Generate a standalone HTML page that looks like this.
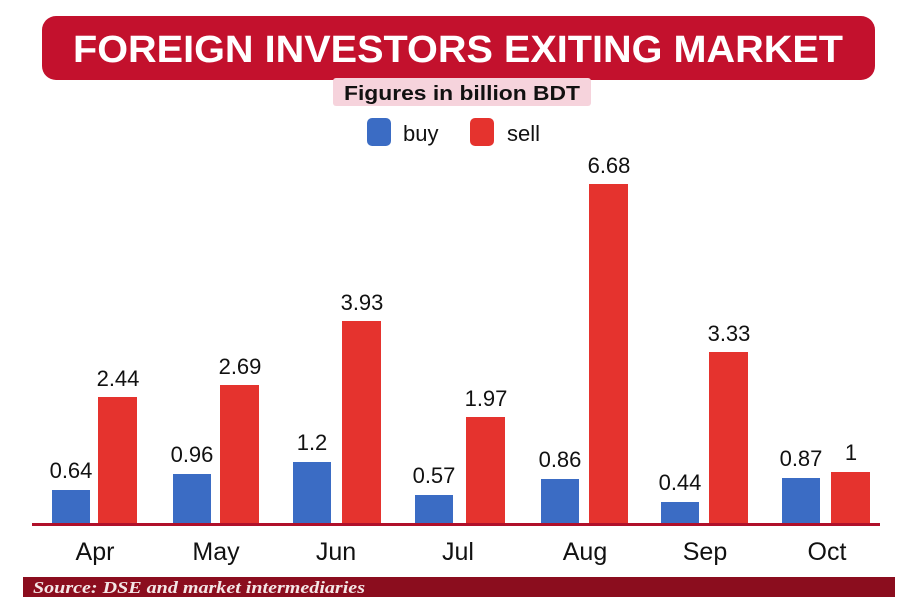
<!DOCTYPE html>
<html><head><meta charset="utf-8"><style>
body{margin:0;width:900px;height:600px;background:#fff;overflow:hidden;font-family:"Liberation Sans",sans-serif;}
</style></head><body>
<svg width="900" height="600" xmlns="http://www.w3.org/2000/svg" font-family="Liberation Sans, sans-serif">
<rect x="42" y="16" width="833" height="64" rx="14" fill="#c3112d"/>
<text x="458" y="62" text-anchor="middle" fill="#fff" font-weight="bold" font-size="38" textLength="770" lengthAdjust="spacingAndGlyphs">FOREIGN INVESTORS EXITING MARKET</text>
<rect x="333" y="78" width="258" height="28" rx="3" fill="#f6d3dc"/>
<text x="462" y="100" text-anchor="middle" fill="#111" font-weight="bold" font-size="20" textLength="236" lengthAdjust="spacingAndGlyphs">Figures in billion BDT</text>
<rect x="367" y="118" width="24" height="28" rx="5" fill="#3b6cc4"/>
<text x="403" y="141" font-size="22" fill="#111">buy</text>
<rect x="470" y="118" width="24" height="28" rx="5" fill="#e5332e"/>
<text x="507" y="141" font-size="22" fill="#111">sell</text>
<g font-size="22" fill="#111" text-anchor="middle">
<rect x="52" y="490" width="38" height="34" fill="#3b6cc4"/><rect x="98" y="397" width="39" height="127" fill="#e5332e"/>
<text x="71" y="478">0.64</text><text x="118" y="386">2.44</text>
<rect x="173" y="474" width="38" height="50" fill="#3b6cc4"/><rect x="220" y="385" width="39" height="139" fill="#e5332e"/>
<text x="192" y="462">0.96</text><text x="240" y="374">2.69</text>
<rect x="293" y="462" width="38" height="62" fill="#3b6cc4"/><rect x="342" y="321" width="39" height="203" fill="#e5332e"/>
<text x="312" y="450">1.2</text><text x="362" y="310">3.93</text>
<rect x="415" y="495" width="38" height="29" fill="#3b6cc4"/><rect x="466" y="417" width="39" height="107" fill="#e5332e"/>
<text x="434" y="483">0.57</text><text x="486" y="406">1.97</text>
<rect x="541" y="479" width="38" height="45" fill="#3b6cc4"/><rect x="589" y="184" width="39" height="340" fill="#e5332e"/>
<text x="560" y="467">0.86</text><text x="609" y="173">6.68</text>
<rect x="661" y="502" width="38" height="22" fill="#3b6cc4"/><rect x="709" y="352" width="39" height="172" fill="#e5332e"/>
<text x="680" y="490">0.44</text><text x="729" y="341">3.33</text>
<rect x="782" y="478" width="38" height="46" fill="#3b6cc4"/><rect x="831" y="472" width="39" height="52" fill="#e5332e"/>
<text x="801" y="466">0.87</text><text x="851" y="460">1</text>
</g>
<rect x="32" y="523" width="848" height="3" fill="#b0102a"/>
<g font-size="25" fill="#111" text-anchor="middle">
<text x="95" y="560">Apr</text><text x="216" y="560">May</text><text x="336" y="560">Jun</text><text x="458" y="560">Jul</text><text x="585" y="560">Aug</text><text x="705" y="560">Sep</text><text x="827" y="560">Oct</text>
</g>
<rect x="23" y="577" width="872" height="20" fill="#8b0d1e"/>
<text x="33" y="593" font-family="Liberation Serif, serif" font-style="italic" font-weight="bold" font-size="17" fill="#f4e6e6" textLength="332" lengthAdjust="spacingAndGlyphs">Source: DSE and market intermediaries</text>
</svg>
</body></html>
